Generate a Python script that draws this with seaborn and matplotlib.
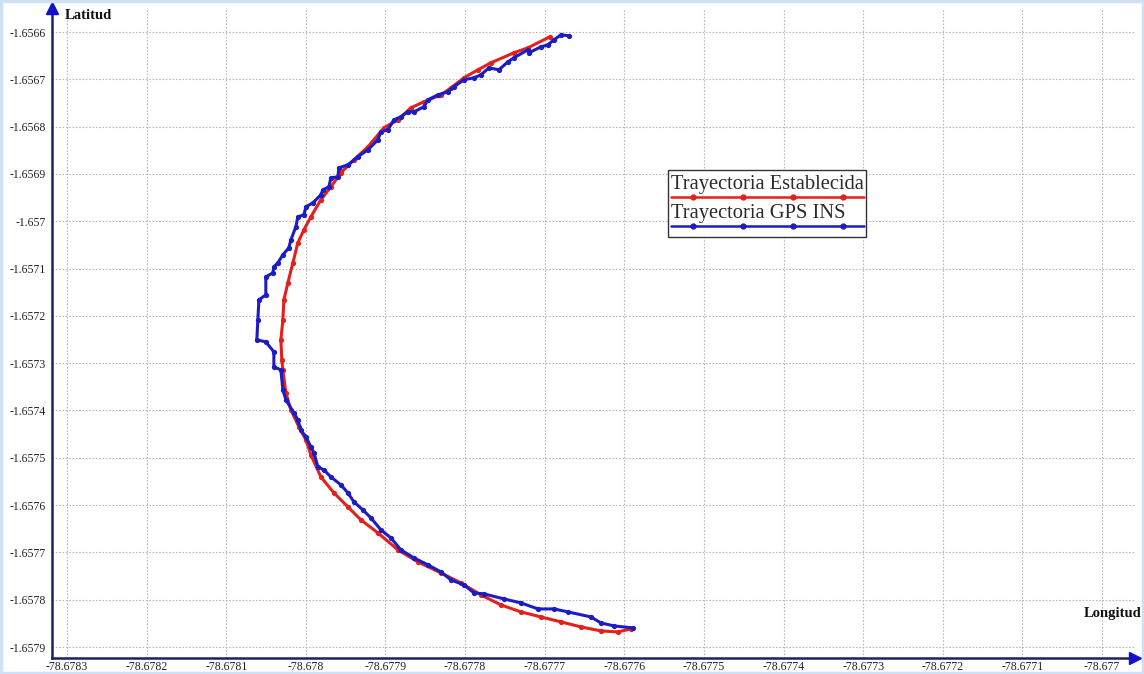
import matplotlib
matplotlib.use("Agg")
import matplotlib.pyplot as plt
import seaborn as sns
import pandas as pd
from matplotlib.patches import Rectangle
from matplotlib.lines import Line2D

# ---------------- data ----------------
est_lon = [-78.6776935, -78.6777211, -78.6777387, -78.6777676, -78.6777839, -78.6778015,
           -78.6778178, -78.6778304, -78.6778518, -78.6778681, -78.6778844, -78.6779020,
           -78.6779221, -78.6779397, -78.6779560, -78.6779686, -78.6779812, -78.6779937,
           -78.6780025, -78.6780101, -78.6780163, -78.6780226, -78.6780276, -78.6780289,
           -78.6780314, -78.6780302, -78.6780289, -78.6780251, -78.6780188, -78.6780088,
           -78.6780000, -78.6779937, -78.6779812, -78.6779648, -78.6779472, -78.6779309,
           -78.6779095, -78.6778844, -78.6778593, -78.6778304, -78.6778053, -78.6777801,
           -78.6777550, -78.6777299, -78.6777048, -78.6776796, -78.6776545, -78.6776294,
           -78.6776080, -78.6775917]
est_lat = [-1.6566101, -1.6566334, -1.6566440, -1.6566651, -1.6566799, -1.6566968,
           -1.6567180, -1.6567328, -1.6567476, -1.6567602, -1.6567856, -1.6568025,
           -1.6568427, -1.6568702, -1.6568977, -1.6569273, -1.6569548, -1.6569907,
           -1.6570182, -1.6570457, -1.6570879, -1.6571302, -1.6571662, -1.6572085,
           -1.6572507, -1.6572930, -1.6573142, -1.6573628, -1.6573987, -1.6574347,
           -1.6574622, -1.6574939, -1.6575404, -1.6575742, -1.6576038, -1.6576313,
           -1.6576588, -1.6576947, -1.6577201, -1.6577434, -1.6577645, -1.6577899,
           -1.6578110, -1.6578258, -1.6578364, -1.6578469, -1.6578575, -1.6578660,
           -1.6578681, -1.6578617]

gps_lon = [-78.6776696, -78.6776796, -78.6776884, -78.6776960, -78.6777048, -78.6777198,
           -78.6777211, -78.6777387, -78.6777462, -78.6777575, -78.6777701, -78.6777801,
           -78.6777889, -78.6778015, -78.6778141, -78.6778216, -78.6778342, -78.6778467,
           -78.6778518, -78.6778643, -78.6778719, -78.6778807, -78.6778894, -78.6778970,
           -78.6779058, -78.6779095, -78.6779221, -78.6779347, -78.6779472, -78.6779585,
           -78.6779598, -78.6779686, -78.6779711, -78.6779786, -78.6779812, -78.6779912,
           -78.6780000, -78.6780025, -78.6780101, -78.6780126, -78.6780188, -78.6780214,
           -78.6780289, -78.6780352, -78.6780402, -78.6780415, -78.6780503, -78.6780503,
           -78.6780590, -78.6780603, -78.6780616, -78.6780503, -78.6780402, -78.6780402,
           -78.6780314, -78.6780289, -78.6780251, -78.6780151, -78.6780101, -78.6780063,
           -78.6780000, -78.6779937, -78.6779899, -78.6779849, -78.6779774, -78.6779686,
           -78.6779560, -78.6779472, -78.6779397, -78.6779284, -78.6779183, -78.6779058,
           -78.6778932, -78.6778807, -78.6778643, -78.6778467, -78.6778304, -78.6778178,
           -78.6778015, -78.6777889, -78.6777764, -78.6777513, -78.6777299, -78.6777085,
           -78.6776884, -78.6776708, -78.6776420, -78.6776294, -78.6776131, -78.6775892]
gps_lat = [-1.6566080, -1.6566059, -1.6566165, -1.6566271, -1.6566313, -1.6566440,
           -1.6566376, -1.6566545, -1.6566630, -1.6566799, -1.6566757, -1.6566905,
           -1.6566968, -1.6567010, -1.6567158, -1.6567264, -1.6567328, -1.6567433,
           -1.6567581, -1.6567687, -1.6567687, -1.6567793, -1.6567856, -1.6568068,
           -1.6568110, -1.6568279, -1.6568490, -1.6568638, -1.6568808, -1.6568871,
           -1.6569061, -1.6569082, -1.6569273, -1.6569336, -1.6569442, -1.6569611,
           -1.6569696, -1.6569865, -1.6569907, -1.6570118, -1.6570393, -1.6570562,
           -1.6570710, -1.6570879, -1.6570964, -1.6571091, -1.6571175, -1.6571556,
           -1.6571662, -1.6572085, -1.6572507, -1.6572550, -1.6572761, -1.6573078,
           -1.6573142, -1.6573565, -1.6573776, -1.6574051, -1.6574199, -1.6574410,
           -1.6574558, -1.6574770, -1.6574896, -1.6575192, -1.6575256, -1.6575404,
           -1.6575573, -1.6575742, -1.6575932, -1.6576102, -1.6576271, -1.6576524,
           -1.6576694, -1.6576947, -1.6577116, -1.6577264, -1.6577412, -1.6577581,
           -1.6577687, -1.6577856, -1.6577877, -1.6577983, -1.6578068, -1.6578195,
           -1.6578195, -1.6578258, -1.6578364, -1.6578491, -1.6578554, -1.6578596]

x_ticks = [-78.6783, -78.6782, -78.6781, -78.6780, -78.6779, -78.6778, -78.6777,
           -78.6776, -78.6775, -78.6774, -78.6773, -78.6772, -78.6771, -78.6770]
x_tick_labels = ["-78.6783", "-78.6782", "-78.6781", "-78.678", "-78.6779", "-78.6778",
                 "-78.6777", "-78.6776", "-78.6775", "-78.6774", "-78.6773", "-78.6772",
                 "-78.6771", "-78.677"]
y_ticks = [-1.6566, -1.6567, -1.6568, -1.6569, -1.6570, -1.6571, -1.6572, -1.6573,
           -1.6574, -1.6575, -1.6576, -1.6577, -1.6578, -1.6579]
y_tick_labels = ["-1.6566", "-1.6567", "-1.6568", "-1.6569", "-1.657", "-1.6571",
                 "-1.6572", "-1.6573", "-1.6574", "-1.6575", "-1.6576", "-1.6577",
                 "-1.6578", "-1.6579"]

series_names = ["Trayectoria Establecida", "Trayectoria GPS INS"]
x_label = "Longitud"
y_label = "Latitud"

# ---------------- style ----------------
sns.set_theme(style="white")
plt.rcParams["font.family"] = ["Liberation Serif", "DejaVu Serif"]

RED = "#e3201c"
BLUE = "#1c1cc4"
NAVY = "#1e1e6e"

fig = plt.figure(figsize=(11.44, 6.74), dpi=100)
fig.patch.set_facecolor("white")
ax = fig.add_axes([0.0455, 0.0237, 0.9467, 0.9644])

df_est = pd.DataFrame({"lon": est_lon, "lat": est_lat})
df_gps = pd.DataFrame({"lon": gps_lon, "lat": gps_lat})

sns.lineplot(data=df_est, x="lon", y="lat", sort=False, estimator=None, ax=ax,
             color=RED, linewidth=2.2, marker="o", markersize=3.8,
             markeredgewidth=0, zorder=3)
sns.lineplot(data=df_gps, x="lon", y="lat", sort=False, estimator=None, ax=ax,
             color=BLUE, linewidth=2.2, marker="o", markersize=3.8,
             markeredgewidth=0, zorder=4)

ax.set_xlim(-78.6783188, -78.6769585)
ax.set_ylim(-1.6579233, -1.6565493)
ax.set_xticks(x_ticks)
ax.set_xticklabels(x_tick_labels)
ax.set_yticks(y_ticks)
ax.set_yticklabels(y_tick_labels)
ax.set_xlabel("")
ax.set_ylabel("")

ax.grid(True, color="#b8b8b8", linestyle=(0, (1.5, 1.5)), linewidth=0.8)
ax.set_axisbelow(True)

for s in ["top", "right"]:
    ax.spines[s].set_visible(False)
for s in ["left", "bottom"]:
    ax.spines[s].set_color(NAVY)
    ax.spines[s].set_linewidth(1.8)

ax.tick_params(axis="both", direction="inout", length=7, width=1.2, color=NAVY,
               labelsize=8.5, labelcolor="#222222")
ax.tick_params(axis="y", pad=1)
ax.tick_params(axis="x", pad=-1)

# axis arrows
ax.plot([0], [1.0], marker="^", color="#1010d0", markersize=8,
        transform=ax.transAxes, clip_on=False, zorder=6)
ax.plot([1.0], [0], marker=">", color="#1010d0", markersize=8,
        transform=ax.transAxes, clip_on=False, zorder=6)

ax.text(0.012, 0.988, y_label, transform=ax.transAxes, fontsize=10.5,
        fontweight="bold", ha="left", va="center", color="#111111")
ax.text(1.0055, 0.068, x_label, transform=ax.transAxes, fontsize=10.5,
        fontweight="bold", ha="right", va="center", color="#111111")

# legend (label above a marked line sample)
def px2ax(px, py):
    return ((px - 52) / 1083.0, (658 - py) / 650.0)

x0, y0 = px2ax(668, 237)
x1, y1 = px2ax(866, 170)
ax.add_patch(Rectangle((x0, y0), x1 - x0, y1 - y0, transform=ax.transAxes,
                       facecolor="white", edgecolor="#333333", linewidth=1.0,
                       zorder=7, clip_on=False))
for name, col, ty, ly in [(series_names[0], RED, 184, 197),
                          (series_names[1], BLUE, 213, 226)]:
    tx, tyy = px2ax(671, ty)
    ax.text(tx, tyy, name, transform=ax.transAxes, fontsize=14.8, ha="left",
            va="center", color="#2a2a2a", zorder=8)
    lx0, lyy = px2ax(671, ly)
    lx1, _ = px2ax(864, ly)
    ax.add_line(Line2D([lx0, lx1], [lyy, lyy], transform=ax.transAxes,
                       color=col, linewidth=1.8, zorder=8))
    mx = [px2ax(p, ly)[0] for p in (693, 743, 793, 843)]
    ax.add_line(Line2D(mx, [lyy] * 4, transform=ax.transAxes, linestyle="none",
                       marker="o", markersize=3.5, color=col, zorder=9))

# light blue frame around the figure
fig.add_artist(Rectangle((0.001, 0.001), 0.998, 0.997, transform=fig.transFigure,
                         fill=False, edgecolor="#cfe0f4", linewidth=2.5))

fig.savefig("out.png", dpi=100)
